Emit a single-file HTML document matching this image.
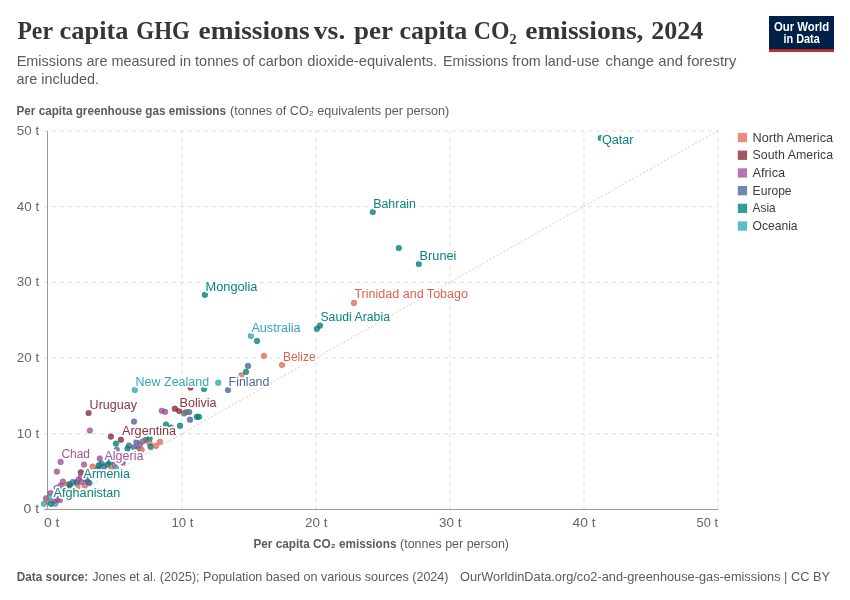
<!DOCTYPE html>
<html lang="en"><head><meta charset="utf-8"><title>Per capita GHG emissions vs. per capita CO2 emissions, 2024</title>
<style>
html,body{margin:0;padding:0;background:#fff;}
body{width:850px;height:600px;overflow:hidden;}
svg{display:block;}
text{font-family:"Liberation Sans",sans-serif;}
.ttl{font-family:"Liberation Serif",serif;font-weight:700;fill:#363636;}
.sub{font-size:15px;fill:#5b5b5b;}
.ax{font-size:12px;fill:#5b5b5b;}
.tick{font-size:13px;fill:#666;}
.lg{font-size:13px;fill:#3c3c3c;}
.ft{font-size:13px;fill:#5b5b5b;}
.lb{font-size:12px;paint-order:stroke;stroke:#fff;stroke-width:3.6px;stroke-linejoin:round;}
.g{stroke:#ddd;stroke-width:1;stroke-dasharray:4,4;fill:none;}
</style></head><body>
<svg width="850" height="600" viewBox="0 0 850 600">
<rect width="850" height="600" fill="#fff"/>
<text class="ttl" y="39.4" font-size="26"><tspan x="17.4" textLength="35.1" lengthAdjust="spacingAndGlyphs">Per</tspan> <tspan x="59.6" textLength="68.9" lengthAdjust="spacingAndGlyphs">capita</tspan> <tspan x="136.3" textLength="53.7" lengthAdjust="spacingAndGlyphs">GHG</tspan> <tspan x="198.6" textLength="111.0" lengthAdjust="spacingAndGlyphs">emissions</tspan> <tspan x="313.8" textLength="31.5" lengthAdjust="spacingAndGlyphs">vs.</tspan> <tspan x="354" textLength="38.5" lengthAdjust="spacingAndGlyphs">per</tspan> <tspan x="399.5" textLength="67.8" lengthAdjust="spacingAndGlyphs">capita</tspan> <tspan x="473.8" textLength="42.8" lengthAdjust="spacingAndGlyphs">CO₂</tspan> <tspan x="525.2" textLength="118.3" lengthAdjust="spacingAndGlyphs">emissions,</tspan> <tspan x="651.2" textLength="52.0" lengthAdjust="spacingAndGlyphs">2024</tspan></text>
<text class="sub" y="66.4"><tspan x="16.7" textLength="286.1" lengthAdjust="spacingAndGlyphs">Emissions are measured in tonnes of carbon</tspan> <tspan x="307.3" textLength="129.9" lengthAdjust="spacingAndGlyphs">dioxide-equivalents.</tspan> <tspan x="443.1" textLength="156.4" lengthAdjust="spacingAndGlyphs">Emissions from land-use</tspan> <tspan x="605.5" textLength="130.9" lengthAdjust="spacingAndGlyphs">change and forestry</tspan></text>
<text class="sub" x="16.5" y="84.3" textLength="82.5" lengthAdjust="spacingAndGlyphs">are included.</text>
<g><rect x="769" y="16" width="65" height="35.7" fill="#002147"/><rect x="769" y="49.1" width="65" height="2.6" fill="#ce261e"/><text x="773.9" y="30.7" font-size="12" font-weight="700" fill="#fff" textLength="55.3" lengthAdjust="spacingAndGlyphs">Our World</text><text x="783.5" y="42.5" font-size="12" font-weight="700" fill="#fff" textLength="36.3" lengthAdjust="spacingAndGlyphs">in Data</text></g>
<text class="ax" x="16.5" y="114.7"><tspan font-weight="700" textLength="209.5" lengthAdjust="spacingAndGlyphs">Per capita greenhouse gas emissions</tspan></text>
<text class="ax" x="230" y="114.7" textLength="219.3" lengthAdjust="spacingAndGlyphs">(tonnes of CO₂ equivalents per person)</text>
<line class="g" x1="44" x2="718" y1="433.8" y2="433.8"/><line class="g" x1="44" x2="718" y1="358.1" y2="358.1"/><line class="g" x1="44" x2="718" y1="282.4" y2="282.4"/><line class="g" x1="44" x2="718" y1="206.7" y2="206.7"/><line class="g" x1="44" x2="718" y1="131.0" y2="131.0"/><line class="g" x1="181.85" x2="181.85" y1="509.5" y2="131"/><line class="g" x1="315.90" x2="315.90" y1="509.5" y2="131"/><line class="g" x1="449.95" x2="449.95" y1="509.5" y2="131"/><line class="g" x1="584.00" x2="584.00" y1="509.5" y2="131"/><line class="g" x1="718.05" x2="718.05" y1="509.5" y2="131"/>
<line x1="47.5" y1="509.5" x2="717.5" y2="131.0" stroke="#c6c6c6" stroke-width="0.9" stroke-dasharray="2,2"/>
<line x1="47.5" x2="47.5" y1="131" y2="509.5" stroke="#999" stroke-width="1"/><line x1="44" x2="718" y1="509.5" y2="509.5" stroke="#999" stroke-width="1"/>
<text class="tick" x="39.1" y="513.4" text-anchor="end" textLength="15.5" lengthAdjust="spacingAndGlyphs">0 t</text><text class="tick" x="39.1" y="437.7" text-anchor="end" textLength="22.3" lengthAdjust="spacingAndGlyphs">10 t</text><text class="tick" x="39.1" y="362.0" text-anchor="end" textLength="22.3" lengthAdjust="spacingAndGlyphs">20 t</text><text class="tick" x="39.1" y="286.3" text-anchor="end" textLength="22.3" lengthAdjust="spacingAndGlyphs">30 t</text><text class="tick" x="39.1" y="210.6" text-anchor="end" textLength="22.3" lengthAdjust="spacingAndGlyphs">40 t</text><text class="tick" x="39.1" y="134.9" text-anchor="end" textLength="22.3" lengthAdjust="spacingAndGlyphs">50 t</text>
<text class="tick" x="44" y="527.3" textLength="15.5" lengthAdjust="spacingAndGlyphs">0 t</text><text class="tick" x="171.5" y="527.3" textLength="22.0" lengthAdjust="spacingAndGlyphs">10 t</text><text class="tick" x="305" y="527.3" textLength="22.5" lengthAdjust="spacingAndGlyphs">20 t</text><text class="tick" x="439" y="527.3" textLength="22.5" lengthAdjust="spacingAndGlyphs">30 t</text><text class="tick" x="572.5" y="527.3" textLength="23.0" lengthAdjust="spacingAndGlyphs">40 t</text><text class="tick" x="696.5" y="527.3" textLength="21.5" lengthAdjust="spacingAndGlyphs">50 t</text>
<text class="ax" x="253.5" y="548" font-weight="700" textLength="143" lengthAdjust="spacingAndGlyphs">Per capita CO₂ emissions</text><text class="ax" x="400" y="548" textLength="109" lengthAdjust="spacingAndGlyphs">(tonnes per person)</text>
<g stroke-width="0.5" fill-opacity="0.8">
<circle cx="600.7" cy="138.0" r="2.85" fill="#00847E" stroke="#005f5a" stroke-opacity="0.7"/><circle cx="372.8" cy="212.0" r="2.85" fill="#00847E" stroke="#005f5a" stroke-opacity="0.7"/><circle cx="398.8" cy="248.0" r="2.85" fill="#00847E" stroke="#005f5a" stroke-opacity="0.7"/><circle cx="418.8" cy="264.0" r="2.85" fill="#00847E" stroke="#005f5a" stroke-opacity="0.7"/><circle cx="354.0" cy="302.9" r="2.85" fill="#E56E5A" stroke="#a44f40" stroke-opacity="0.7"/><circle cx="204.9" cy="294.8" r="2.85" fill="#00847E" stroke="#005f5a" stroke-opacity="0.7"/><circle cx="316.9" cy="328.8" r="2.85" fill="#00847E" stroke="#005f5a" stroke-opacity="0.7"/><circle cx="320.0" cy="325.6" r="2.85" fill="#00847E" stroke="#005f5a" stroke-opacity="0.7"/><circle cx="250.9" cy="335.9" r="2.85" fill="#38AABA" stroke="#287a85" stroke-opacity="0.7"/><circle cx="257.0" cy="340.9" r="2.85" fill="#00847E" stroke="#005f5a" stroke-opacity="0.7"/><circle cx="264.0" cy="355.8" r="2.85" fill="#E56E5A" stroke="#a44f40" stroke-opacity="0.7"/><circle cx="282.0" cy="364.8" r="2.85" fill="#E56E5A" stroke="#a44f40" stroke-opacity="0.7"/><circle cx="248.0" cy="365.9" r="2.85" fill="#4C6A9C" stroke="#364c70" stroke-opacity="0.7"/><circle cx="246.0" cy="371.9" r="2.85" fill="#00847E" stroke="#005f5a" stroke-opacity="0.7"/><circle cx="241.2" cy="375.4" r="2.85" fill="#E56E5A" stroke="#a44f40" stroke-opacity="0.7"/><circle cx="218.2" cy="382.7" r="2.85" fill="#38AABA" stroke="#287a85" stroke-opacity="0.7"/><circle cx="228.0" cy="390.0" r="2.85" fill="#4C6A9C" stroke="#364c70" stroke-opacity="0.7"/><circle cx="204.0" cy="389.0" r="2.85" fill="#00847E" stroke="#005f5a" stroke-opacity="0.7"/><circle cx="190.5" cy="387.5" r="2.85" fill="#883039" stroke="#612229" stroke-opacity="0.7"/><circle cx="134.8" cy="390.0" r="2.85" fill="#38AABA" stroke="#287a85" stroke-opacity="0.7"/><circle cx="88.6" cy="413.0" r="2.85" fill="#883039" stroke="#612229" stroke-opacity="0.7"/><circle cx="89.9" cy="430.5" r="2.85" fill="#A2559C" stroke="#743d70" stroke-opacity="0.7"/><circle cx="134.0" cy="421.6" r="2.85" fill="#4C6A9C" stroke="#364c70" stroke-opacity="0.7"/><circle cx="161.8" cy="410.8" r="2.85" fill="#A2559C" stroke="#743d70" stroke-opacity="0.7"/><circle cx="165.2" cy="411.8" r="2.85" fill="#A2559C" stroke="#743d70" stroke-opacity="0.7"/><circle cx="174.8" cy="408.7" r="2.85" fill="#883039" stroke="#612229" stroke-opacity="0.7"/><circle cx="179.2" cy="411.0" r="2.85" fill="#883039" stroke="#612229" stroke-opacity="0.7"/><circle cx="189.2" cy="412.0" r="2.85" fill="#4C6A9C" stroke="#364c70" stroke-opacity="0.7"/><circle cx="186.0" cy="412.0" r="2.85" fill="#6E7787" stroke="#4f5561" stroke-opacity="0.7"/><circle cx="184.0" cy="413.5" r="2.85" fill="#6E7787" stroke="#4f5561" stroke-opacity="0.7"/><circle cx="190.0" cy="419.7" r="2.85" fill="#4C6A9C" stroke="#364c70" stroke-opacity="0.7"/><circle cx="196.8" cy="416.8" r="2.85" fill="#00847E" stroke="#005f5a" stroke-opacity="0.7"/><circle cx="199.0" cy="416.8" r="2.85" fill="#00847E" stroke="#005f5a" stroke-opacity="0.7"/><circle cx="166.0" cy="424.5" r="2.85" fill="#00847E" stroke="#005f5a" stroke-opacity="0.7"/><circle cx="180.0" cy="425.7" r="2.85" fill="#00847E" stroke="#005f5a" stroke-opacity="0.7"/><circle cx="171.0" cy="427.5" r="2.85" fill="#00847E" stroke="#005f5a" stroke-opacity="0.7"/><circle cx="110.9" cy="436.6" r="2.85" fill="#883039" stroke="#612229" stroke-opacity="0.7"/><circle cx="120.9" cy="439.7" r="2.85" fill="#883039" stroke="#612229" stroke-opacity="0.7"/><circle cx="116.0" cy="443.6" r="2.85" fill="#00847E" stroke="#005f5a" stroke-opacity="0.7"/><circle cx="116.7" cy="449.8" r="2.85" fill="#4C6A9C" stroke="#364c70" stroke-opacity="0.7"/><circle cx="128.9" cy="445.5" r="2.85" fill="#4C6A9C" stroke="#364c70" stroke-opacity="0.7"/><circle cx="127.5" cy="448.6" r="2.85" fill="#00847E" stroke="#005f5a" stroke-opacity="0.7"/><circle cx="134.1" cy="447.4" r="2.85" fill="#4C6A9C" stroke="#364c70" stroke-opacity="0.7"/><circle cx="136.5" cy="442.2" r="2.85" fill="#4C6A9C" stroke="#364c70" stroke-opacity="0.7"/><circle cx="138.4" cy="448.8" r="2.85" fill="#4C6A9C" stroke="#364c70" stroke-opacity="0.7"/><circle cx="141.6" cy="449.8" r="2.85" fill="#E56E5A" stroke="#a44f40" stroke-opacity="0.7"/><circle cx="145.9" cy="439.9" r="2.85" fill="#4C6A9C" stroke="#364c70" stroke-opacity="0.7"/><circle cx="149.6" cy="438.5" r="2.85" fill="#00847E" stroke="#005f5a" stroke-opacity="0.7"/><circle cx="140.0" cy="444.6" r="2.85" fill="#A2559C" stroke="#743d70" stroke-opacity="0.7"/><circle cx="142.6" cy="441.3" r="2.85" fill="#6E7787" stroke="#4f5561" stroke-opacity="0.7"/><circle cx="149.6" cy="443.2" r="2.85" fill="#E56E5A" stroke="#a44f40" stroke-opacity="0.7"/><circle cx="150.6" cy="446.8" r="2.85" fill="#00847E" stroke="#005f5a" stroke-opacity="0.7"/><circle cx="155.8" cy="445.8" r="2.85" fill="#E56E5A" stroke="#a44f40" stroke-opacity="0.7"/><circle cx="160.0" cy="441.8" r="2.85" fill="#E56E5A" stroke="#a44f40" stroke-opacity="0.7"/><circle cx="99.8" cy="458.5" r="2.85" fill="#A2559C" stroke="#743d70" stroke-opacity="0.7"/><circle cx="84.0" cy="464.5" r="2.85" fill="#A2559C" stroke="#743d70" stroke-opacity="0.7"/><circle cx="122.8" cy="462.5" r="2.85" fill="#A2559C" stroke="#743d70" stroke-opacity="0.7"/><circle cx="97.9" cy="468.6" r="2.85" fill="#4C6A9C" stroke="#364c70" stroke-opacity="0.7"/><circle cx="92.7" cy="466.7" r="2.85" fill="#E56E5A" stroke="#a44f40" stroke-opacity="0.7"/><circle cx="111.5" cy="469.0" r="2.85" fill="#E56E5A" stroke="#a44f40" stroke-opacity="0.7"/><circle cx="101.6" cy="463.4" r="2.85" fill="#4C6A9C" stroke="#364c70" stroke-opacity="0.7"/><circle cx="104.0" cy="466.7" r="2.85" fill="#4C6A9C" stroke="#364c70" stroke-opacity="0.7"/><circle cx="98.8" cy="465.3" r="2.85" fill="#00847E" stroke="#005f5a" stroke-opacity="0.7"/><circle cx="107.8" cy="464.4" r="2.85" fill="#00847E" stroke="#005f5a" stroke-opacity="0.7"/><circle cx="110.1" cy="462.0" r="2.85" fill="#00847E" stroke="#005f5a" stroke-opacity="0.7"/><circle cx="114.4" cy="464.8" r="2.85" fill="#A2559C" stroke="#743d70" stroke-opacity="0.7"/><circle cx="116.2" cy="468.6" r="2.85" fill="#38AABA" stroke="#287a85" stroke-opacity="0.7"/><circle cx="80.9" cy="472.4" r="2.85" fill="#883039" stroke="#612229" stroke-opacity="0.7"/><circle cx="60.6" cy="461.9" r="2.85" fill="#A2559C" stroke="#743d70" stroke-opacity="0.7"/><circle cx="56.9" cy="471.6" r="2.85" fill="#A2559C" stroke="#743d70" stroke-opacity="0.7"/><circle cx="62.9" cy="481.7" r="2.85" fill="#A2559C" stroke="#743d70" stroke-opacity="0.7"/><circle cx="60.5" cy="485.6" r="2.85" fill="#A2559C" stroke="#743d70" stroke-opacity="0.7"/><circle cx="56.6" cy="488.0" r="2.85" fill="#A2559C" stroke="#743d70" stroke-opacity="0.7"/><circle cx="50.6" cy="493.0" r="2.85" fill="#A2559C" stroke="#743d70" stroke-opacity="0.7"/><circle cx="66.5" cy="484.9" r="2.85" fill="#E56E5A" stroke="#a44f40" stroke-opacity="0.7"/><circle cx="69.6" cy="484.2" r="2.85" fill="#00847E" stroke="#005f5a" stroke-opacity="0.7"/><circle cx="70.7" cy="487.3" r="2.85" fill="#00847E" stroke="#005f5a" stroke-opacity="0.7"/><circle cx="72.8" cy="482.0" r="2.85" fill="#4C6A9C" stroke="#364c70" stroke-opacity="0.7"/><circle cx="76.7" cy="482.4" r="2.85" fill="#00847E" stroke="#005f5a" stroke-opacity="0.7"/><circle cx="77.4" cy="487.0" r="2.85" fill="#E56E5A" stroke="#a44f40" stroke-opacity="0.7"/><circle cx="84.8" cy="485.6" r="2.85" fill="#E56E5A" stroke="#a44f40" stroke-opacity="0.7"/><circle cx="78.5" cy="479.6" r="2.85" fill="#A2559C" stroke="#743d70" stroke-opacity="0.7"/><circle cx="81.6" cy="482.0" r="2.85" fill="#A2559C" stroke="#743d70" stroke-opacity="0.7"/><circle cx="80.9" cy="476.8" r="2.85" fill="#A2559C" stroke="#743d70" stroke-opacity="0.7"/><circle cx="88.0" cy="481.7" r="2.85" fill="#4C6A9C" stroke="#364c70" stroke-opacity="0.7"/><circle cx="89.4" cy="483.1" r="2.85" fill="#4C6A9C" stroke="#364c70" stroke-opacity="0.7"/><circle cx="86.0" cy="479.0" r="2.85" fill="#4C6A9C" stroke="#364c70" stroke-opacity="0.7"/><circle cx="64.0" cy="489.0" r="2.85" fill="#4C6A9C" stroke="#364c70" stroke-opacity="0.7"/><circle cx="61.0" cy="491.0" r="2.85" fill="#00847E" stroke="#005f5a" stroke-opacity="0.7"/><circle cx="58.0" cy="494.0" r="2.85" fill="#E56E5A" stroke="#a44f40" stroke-opacity="0.7"/><circle cx="55.2" cy="503.8" r="2.85" fill="#38AABA" stroke="#287a85" stroke-opacity="0.7"/><circle cx="46.0" cy="498.3" r="2.85" fill="#A2559C" stroke="#743d70" stroke-opacity="0.7"/><circle cx="54.1" cy="500.8" r="2.85" fill="#A2559C" stroke="#743d70" stroke-opacity="0.7"/><circle cx="57.6" cy="499.3" r="2.85" fill="#A2559C" stroke="#743d70" stroke-opacity="0.7"/><circle cx="59.8" cy="500.0" r="2.85" fill="#A2559C" stroke="#743d70" stroke-opacity="0.7"/><circle cx="47.4" cy="500.8" r="2.85" fill="#E56E5A" stroke="#a44f40" stroke-opacity="0.7"/><circle cx="49.9" cy="497.2" r="2.85" fill="#38AABA" stroke="#287a85" stroke-opacity="0.7"/><circle cx="43.9" cy="503.8" r="2.85" fill="#38AABA" stroke="#287a85" stroke-opacity="0.7"/><circle cx="50.9" cy="503.8" r="2.85" fill="#00847E" stroke="#005f5a" stroke-opacity="0.7"/>
</g>
<text class="lb" x="601.9" y="144.0" fill="#07847F" textLength="31.7" lengthAdjust="spacingAndGlyphs">Qatar</text>
<text class="lb" x="373.2" y="208.4" fill="#07847F" textLength="42.8" lengthAdjust="spacingAndGlyphs">Bahrain</text>
<text class="lb" x="419.6" y="260.4" fill="#07847F" textLength="36.8" lengthAdjust="spacingAndGlyphs">Brunei</text>
<text class="lb" x="205.5" y="291.3" fill="#07847F" textLength="51.9" lengthAdjust="spacingAndGlyphs">Mongolia</text>
<text class="lb" x="354.4" y="298.4" fill="#DB6350" textLength="113.6" lengthAdjust="spacingAndGlyphs">Trinidad and Tobago</text>
<text class="lb" x="320.4" y="321.3" fill="#07847F" textLength="69.6" lengthAdjust="spacingAndGlyphs">Saudi Arabia</text>
<text class="lb" x="251.4" y="331.8" fill="#33A5B8" textLength="49.2" lengthAdjust="spacingAndGlyphs">Australia</text>
<text class="lb" x="282.9" y="360.9" fill="#DB6350" textLength="32.7" lengthAdjust="spacingAndGlyphs">Belize</text>
<text class="lb" x="135.6" y="385.5" fill="#33A5B8" textLength="73.5" lengthAdjust="spacingAndGlyphs">New Zealand</text>
<text class="lb" x="228.6" y="385.5" fill="#4D67A0" textLength="40.8" lengthAdjust="spacingAndGlyphs">Finland</text>
<text class="lb" x="89.6" y="409.0" fill="#8A3440" textLength="47.4" lengthAdjust="spacingAndGlyphs">Uruguay</text>
<text class="lb" x="179.6" y="406.5" fill="#8A3440" textLength="37.0" lengthAdjust="spacingAndGlyphs">Bolivia</text>
<text class="lb" x="122" y="435.4" fill="#8A3440" textLength="54.0" lengthAdjust="spacingAndGlyphs">Argentina</text>
<text class="lb" x="61.4" y="457.8" fill="#A2559C" textLength="28.6" lengthAdjust="spacingAndGlyphs">Chad</text>
<text class="lb" x="104.4" y="459.8" fill="#A2559C" textLength="39.0" lengthAdjust="spacingAndGlyphs">Algeria</text>
<text class="lb" x="83.6" y="478.4" fill="#07847F" textLength="46.4" lengthAdjust="spacingAndGlyphs">Armenia</text>
<text class="lb" x="53.6" y="497.4" fill="#07847F" textLength="66.8" lengthAdjust="spacingAndGlyphs">Afghanistan</text>
<rect x="737.8" y="132.9" width="9.3" height="9.3" fill="#E56E5A" fill-opacity="0.8"/><text class="lg" x="752.6" y="141.6" textLength="80.5" lengthAdjust="spacingAndGlyphs">North America</text>
<rect x="737.8" y="150.6" width="9.3" height="9.3" fill="#883039" fill-opacity="0.8"/><text class="lg" x="752.6" y="159.3" textLength="80.5" lengthAdjust="spacingAndGlyphs">South America</text>
<rect x="737.8" y="168.3" width="9.3" height="9.3" fill="#A2559C" fill-opacity="0.8"/><text class="lg" x="752.6" y="177.0" textLength="32.5" lengthAdjust="spacingAndGlyphs">Africa</text>
<rect x="737.8" y="186.0" width="9.3" height="9.3" fill="#4C6A9C" fill-opacity="0.8"/><text class="lg" x="752.6" y="194.7" textLength="39" lengthAdjust="spacingAndGlyphs">Europe</text>
<rect x="737.8" y="203.7" width="9.3" height="9.3" fill="#00847E" fill-opacity="0.8"/><text class="lg" x="752.6" y="212.4" textLength="23" lengthAdjust="spacingAndGlyphs">Asia</text>
<rect x="737.8" y="221.4" width="9.3" height="9.3" fill="#38AABA" fill-opacity="0.8"/><text class="lg" x="752.6" y="230.1" textLength="45" lengthAdjust="spacingAndGlyphs">Oceania</text>
<text class="ft" x="16.8" y="581" font-weight="700" textLength="71.4" lengthAdjust="spacingAndGlyphs">Data source:</text><text class="ft" x="92.2" y="581" textLength="356.3" lengthAdjust="spacingAndGlyphs">Jones et al. (2025); Population based on various sources (2024)</text><text class="ft" x="460" y="581" textLength="370" lengthAdjust="spacingAndGlyphs">OurWorldinData.org/co2-and-greenhouse-gas-emissions | CC BY</text>
</svg></body></html>
